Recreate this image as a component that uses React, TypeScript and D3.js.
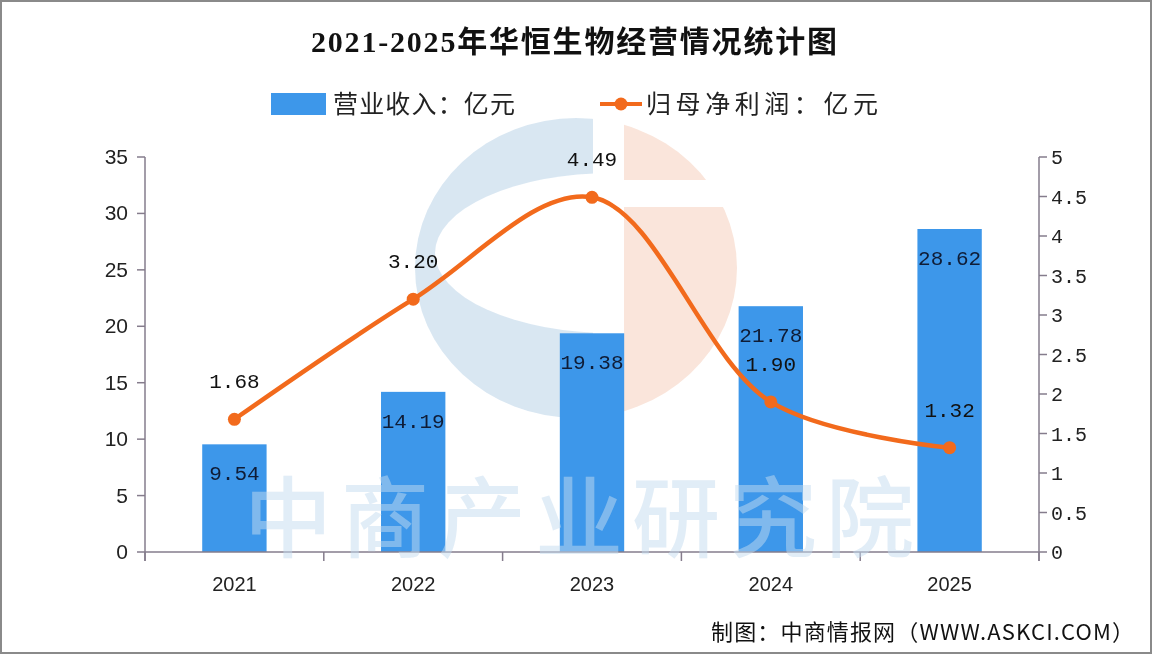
import { useEffect } from 'react';
import * as d3 from 'd3';

const years = ['2021', '2022', '2023', '2024', '2025'];
const revenue = [9.54, 14.19, 19.38, 21.78, 28.62];
const profit = [1.68, 3.2, 4.49, 1.9, 1.32];
const leftTicks = [0, 5, 10, 15, 20, 25, 30, 35];
const rightTicks = [0, 0.5, 1, 1.5, 2, 2.5, 3, 3.5, 4, 4.5, 5];

const W = 1152;
const H = 654;
const margin = { top: 157, right: 113, bottom: 102, left: 145 };

const BAR = '#3d97ea';
const LINE = '#f26a1c';
const AXIS = '#857c8c';
const SANS = '"Liberation Sans", Arial, sans-serif';
const MONO = '"Liberation Mono", "DejaVu Sans Mono", monospace';
const CJK = '"Noto Sans CJK SC", sans-serif';

export default function App() {
  useEffect(() => {
    document.body.style.margin = '0';
  }, []);

  const x = d3.scaleBand()
    .domain(years)
    .range([margin.left, W - margin.right])
    .paddingInner(0.64)
    .paddingOuter(0.32);

  const yL = d3.scaleLinear().domain([0, 35]).range([H - margin.bottom, margin.top]);
  const yR = d3.scaleLinear().domain([0, 5]).range([H - margin.bottom, margin.top]);

  const x0 = margin.left;
  const x1 = W - margin.right;
  const base = yL(0);
  const cx = (d: string) => x(d)! + x.bandwidth() / 2;
  const edges = d3.range(years.length + 1).map(i => x0 + i * x.step());

  const pts = years.map((d, i) => [cx(d), yR(profit[i])] as [number, number]);
  const path = d3.line().curve(d3.curveCatmullRom.alpha(0.5))(pts) || '';

  // watermark logo pieces
  const outer = 'M 576 118 A 161 150 0 1 0 576 418 A 161 150 0 1 0 576 118 Z';

  return (
    <svg width={W} height={H} style={{ display: 'block', background: '#fff' }}>
      <defs>
        <clipPath id="blueSide">
          <rect x={0} y={0} width={593} height={H} />
        </clipPath>
        <clipPath id="peachSide">
          <path d={`M 624 0 H ${W} V 180 H 624 Z M 624 207 H ${W} V ${H} H 624 Z`} />
        </clipPath>
        <mask id="cMask">
          <rect x={0} y={0} width={W} height={H} fill="#fff" />
          <ellipse cx={612} cy={253} rx={177} ry={80} fill="#000" />
        </mask>
      </defs>
      <rect x={1} y={1} width={W - 2} height={H - 2} fill="#fff" stroke="#8a8a8a" strokeWidth={2} />

      {/* logo watermark */}
      <g opacity={0.85}>
        <path d={outer} fill="#d3e3f0" clipPath="url(#blueSide)" mask="url(#cMask)" />
        <path d={outer} fill="#f9e1d5" clipPath="url(#peachSide)" />
      </g>

      <text x={574} y={52} textAnchor="middle" fontFamily={`"Liberation Serif", ${CJK}`}
        fontWeight="bold" fontSize={30} fill="#111" textLength={526} lengthAdjust="spacing">
        2021-2025年华恒生物经营情况统计图
      </text>

      {/* legend */}
      <rect x={271} y={93} width={55} height={22} fill={BAR} />
      <text x={333} y={113} fontFamily={CJK} fontSize={25} fill="#222" textLength={182} lengthAdjust="spacing">
        营业收入：亿元
      </text>
      <line x1={600} x2={642} y1={104} y2={104} stroke={LINE} strokeWidth={4} />
      <circle cx={621} cy={104} r={6.5} fill={LINE} />
      <text x={646} y={113} fontFamily={CJK} fontSize={25} fill="#222" textLength={232} lengthAdjust="spacing">
        归母净利润：亿元
      </text>

      {/* bars */}
      {years.map((d, i) => (
        <rect key={d} x={x(d)} y={yL(revenue[i])} width={x.bandwidth()}
          height={base - yL(revenue[i])} fill={BAR} />
      ))}

      {/* axes */}
      <g stroke={AXIS} strokeWidth={1.5} fill="none">
        <line x1={x0} x2={x0} y1={yL(35)} y2={base + 9} />
        <line x1={x1} x2={x1} y1={yR(5)} y2={base + 9} />
        <line x1={x0} x2={x1} y1={base} y2={base} />
        {leftTicks.map(t => (
          <line key={t} x1={x0 - 8} x2={x0} y1={yL(t)} y2={yL(t)} />
        ))}
        {rightTicks.map(t => (
          <line key={t} x1={x1} x2={x1 + 8} y1={yR(t)} y2={yR(t)} />
        ))}
        {edges.map(e => (
          <line key={e} x1={e} x2={e} y1={base} y2={base + 9} />
        ))}
      </g>
      {leftTicks.map(t => (
        <text key={t} x={x0 - 17} y={yL(t) + 7} textAnchor="end" fontFamily={SANS}
          fontSize={21} fill="#222">{t}</text>
      ))}
      {rightTicks.map(t => (
        <text key={t} x={x1 + 12} y={yR(t) + 7} fontFamily={MONO} fontSize={20} fill="#222">{t}</text>
      ))}
      {years.map(d => (
        <text key={d} x={cx(d)} y={591} textAnchor="middle" fontFamily={SANS} fontSize={20} fill="#222">{d}</text>
      ))}

      {/* line */}
      <path d={path} fill="none" stroke={LINE} strokeWidth={4.5} strokeLinejoin="round" />
      {pts.map((p, i) => (
        <circle key={i} cx={p[0]} cy={p[1]} r={6.5} fill={LINE} />
      ))}

      {/* data labels */}
      {years.map((d, i) => (
        <text key={d} x={cx(d)} y={yL(revenue[i]) + 36} textAnchor="middle" fontFamily={MONO}
          fontSize={21} fill="#0f1c36">{revenue[i].toFixed(2)}</text>
      ))}
      {years.map((d, i) => (
        <text key={d} x={cx(d)} y={yR(profit[i]) - 31} textAnchor="middle" fontFamily={MONO}
          fontSize={21} fill="#111">{profit[i].toFixed(2)}</text>
      ))}

      {/* text watermark */}
      <text x={579} y={550} textAnchor="middle" fontFamily={CJK} fontSize={88} fontWeight={500}
        fill="#c4dbef" fillOpacity={0.5} textLength={670} lengthAdjust="spacing">
        中商产业研究院
      </text>

      <text x={1134} y={640} textAnchor="end" fontFamily={CJK} fontSize={22} fill="#111"
        textLength={423} lengthAdjust="spacing">
        制图：中商情报网（WWW.ASKCI.COM）
      </text>
    </svg>
  );
}
